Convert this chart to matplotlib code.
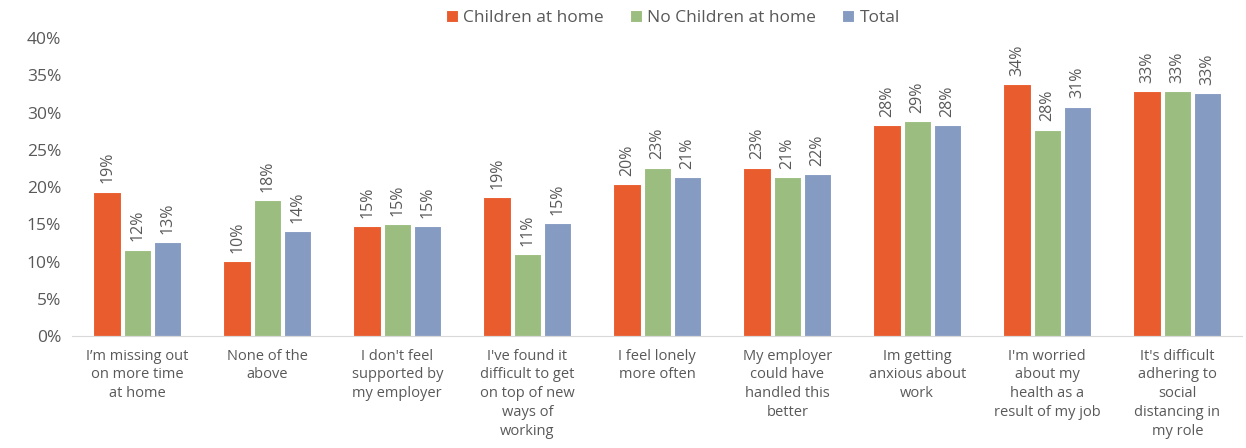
import numpy as np
import matplotlib
matplotlib.use("Agg")
import matplotlib.pyplot as plt

plt.rcParams['font.family'] = ['Open Sans', 'DejaVu Sans']

# data
categories = [
    "I\u2019m missing out\non more time\nat home",
    "None of the\nabove",
    "I don't feel\nsupported by\nmy employer",
    "I've found it\ndifficult to get\non top of new\nways of\nworking",
    "I feel lonely\nmore often",
    "My employer\ncould have\nhandled this\nbetter",
    "Im getting\nanxious about\nwork",
    "I'm worried\nabout my\nhealth as a\nresult of my job",
    "It's difficult\nadhering to\nsocial\ndistancing in\nmy role",
]
children = [19.4, 10.1, 14.8, 18.6, 20.4, 22.6, 28.3, 33.8, 32.9]
no_children = [11.6, 18.3, 15.0, 11.0, 22.6, 21.3, 28.9, 27.7, 32.9]
total = [12.6, 14.1, 14.8, 15.2, 21.3, 21.7, 28.3, 30.8, 32.6]

series = [
    ("Children at home", children, "#E95C2D"),
    ("No Children at home", no_children, "#9BBD7F"),
    ("Total", total, "#869BC2"),
]

grey = "#595959"
fig = plt.figure(figsize=(12.46, 4.48), dpi=100)
ax = fig.add_axes([0.058, 0.25, 0.939, 0.665])

x = np.arange(len(categories))
step = 0.232
width = 0.21
for i, (name, vals, col) in enumerate(series):
    pos = x + (i - 1) * step
    ax.bar(pos, vals, width, color=col, edgecolor="white", linewidth=0.8, label=name)
    for px, v in zip(pos, vals):
        ax.text(px, v + 1.1, "{:.0f}%".format(v), rotation=90, ha="center", va="bottom",
                fontsize=11.5, color=grey, clip_on=False)

ax.set_xlim(-0.5, len(categories) - 0.5)
ax.set_ylim(0, 40)
ax.set_yticks(np.arange(0, 41, 5))
ax.set_yticklabels(["{}%".format(t) for t in range(0, 41, 5)], fontsize=12.5, color=grey)
ax.set_xticks(x)
ax.set_xticklabels(categories, fontsize=10.5, color=grey, linespacing=1.35)
ax.tick_params(axis="x", length=0, pad=9)
ax.tick_params(axis="y", length=0, pad=8)
for s in ["top", "right", "left"]:
    ax.spines[s].set_visible(False)
ax.spines["bottom"].set_color("#D9D9D9")

fig.legend(loc="upper center", bbox_to_anchor=(0.54, 1.013), ncol=3, frameon=False,
           fontsize=12.5, labelcolor=grey, handlelength=0.7, handleheight=0.7,
           handletextpad=0.3, columnspacing=1.5)

fig.savefig("out.png", dpi=100)
